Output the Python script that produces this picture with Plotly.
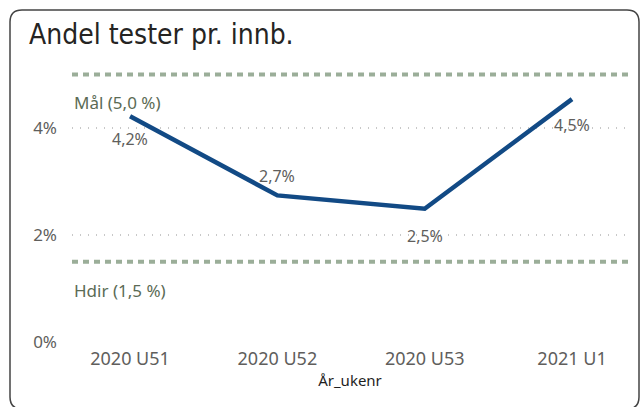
import plotly.graph_objects as go

categories = ["2020 U51", "2020 U52", "2020 U53", "2021 U1"]
values = [4.22, 2.74, 2.49, 4.54]
value_labels = ["4,2%", "2,7%", "2,5%", "4,5%"]
label_shifts = [-23, 19, -27, -26]
target_value = 5.0
target_label = "Mål (5,0 %)"
hdir_value = 1.5
hdir_label = "Hdir (1,5 %)"
y_ticks = [0, 2, 4]
y_tick_labels = ["0%", "2%", "4%"]

W, H = 642, 407
L, R, T, B = 72, 14, 62, 65
pw, ph = W - L - R, H - T - B
px_per_unit = 53.5
x_range = [-0.394, 3.38]

fig = go.Figure()
for v in (target_value, hdir_value):
    fig.add_trace(go.Scatter(
        x=x_range, y=[v, v], mode="lines",
        line=dict(color="#9BAE99", width=4, dash="6px,5px"),
        hoverinfo="skip", showlegend=False))

fig.add_trace(go.Scatter(
    x=list(range(len(categories))), y=values, mode="lines",
    line=dict(color="#124A85", width=4.5),
    showlegend=False))

for i, (v, t, s) in enumerate(zip(values, value_labels, label_shifts)):
    fig.add_annotation(x=i, y=v, text=t, showarrow=False, yshift=s,
                       font=dict(family="Noto Sans", size=16, color="#605E5C"))

fig.add_annotation(x=0, xref="paper", xanchor="left", y=target_value, yref="y",
                   yshift=-28, text=target_label, showarrow=False,
                   font=dict(family="Noto Sans", size=17, color="#5B6B55"))
fig.add_annotation(x=0, xref="paper", xanchor="left", y=hdir_value, yref="y",
                   yshift=-29, text=hdir_label, showarrow=False,
                   font=dict(family="Noto Sans", size=17, color="#5B6B55"))

# card border (rounded rectangle) in paper coords
x0, x1 = (10 - L) / pw, (639 - L) / pw
y0, y1 = (T + ph - 409) / ph, (T + ph - 10) / ph
rx, ry = 12 / pw, 12 / ph
path = (f"M {x0+rx},{y1} L {x1-rx},{y1} Q {x1},{y1} {x1},{y1-ry} "
        f"L {x1},{y0+ry} Q {x1},{y0} {x1-rx},{y0} L {x0+rx},{y0} "
        f"Q {x0},{y0} {x0},{y0+ry} L {x0},{y1-ry} Q {x0},{y1} {x0+rx},{y1} Z")
fig.add_shape(type="path", path=path, xref="paper", yref="paper",
              line=dict(color="#444444", width=1.5), layer="below")

fig.add_annotation(x=(27 - L) / pw, xref="paper", xanchor="left",
                   y=(T + ph - 35) / ph, yref="paper", yanchor="middle",
                   text="Andel tester pr. innb.", showarrow=False,
                   font=dict(family="DejaVu Sans Condensed", size=28, color="#252423"))

fig.update_layout(
    width=W, height=H,
    margin=dict(l=L, r=R, t=T, b=B),
    paper_bgcolor="white", plot_bgcolor="white",
    xaxis=dict(range=x_range, tickvals=list(range(len(categories))),
               ticktext=categories, showgrid=False, zeroline=False,
               ticklabelstandoff=4,
               tickfont=dict(family="Noto Sans", size=18, color="#605E5C"),
               title=dict(text="År_ukenr", standoff=6,
                          font=dict(family="Noto Sans", size=15, color="#1E1E1E"))),
    yaxis=dict(range=[0, ph / px_per_unit], tickvals=y_ticks, ticktext=y_tick_labels,
               showgrid=True, gridcolor="#C8C8C8", griddash="1px,7px", gridwidth=1.5,
               zeroline=False, ticklabelstandoff=14,
               tickfont=dict(family="Noto Sans", size=17, color="#605E5C")),
)

fig.write_html(
    "out.html",
    config={"displayModeBar": False},
    post_script="document.body.style.margin='0';"
                "document.body.style.overflow='hidden';"
                "document.documentElement.style.overflow='hidden';",
)
